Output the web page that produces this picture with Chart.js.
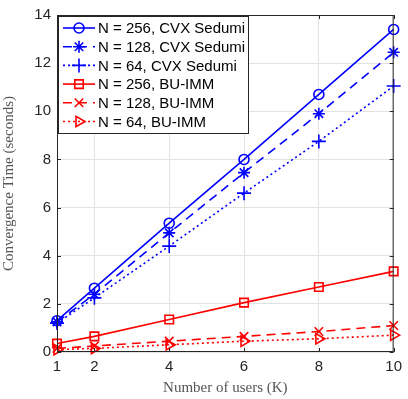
<!DOCTYPE html>
<html><head><meta charset="utf-8">
<script src="https://cdn.jsdelivr.net/npm/chart.js@4.4.0/dist/chart.umd.min.js"></script>
<style>html,body{margin:0;padding:0;background:#fff}#w{width:408px;height:399px}</style>
</head><body><div id="w"><canvas id="c" width="408" height="399"></canvas></div>
<script>
const users = [1, 2, 4, 6, 8, 10];
const xTicks = [1, 2, 4, 6, 8, 10];
const yTicks = [0, 2, 4, 6, 8, 10, 12, 14];
const cvx256 = [1.3, 2.65, 5.35, 8.0, 10.7, 13.4];
const cvx128 = [1.25, 2.4, 4.95, 7.45, 9.9, 12.45];
const cvx64 = [1.2, 2.25, 4.4, 6.6, 8.75, 11.05];
const bu256 = [0.35, 0.65, 1.35, 2.05, 2.7, 3.35];
const bu128 = [0.15, 0.25, 0.45, 0.65, 0.85, 1.1];
const bu64 = [0.1, 0.15, 0.3, 0.45, 0.55, 0.7];

const BLUE = '#0000ff', RED = '#ff0000';
function ds(label, data, color, dash, style, radius, rot) {
  return {
    label, data: users.map((u, i) => ({x: u, y: data[i]})),
    borderColor: color, backgroundColor: 'rgba(0,0,0,0)', borderWidth: 1.6,
    borderDash: dash, pointStyle: style, pointRadius: radius, pointRotation: rot || 0,
    pointBorderColor: color, pointBackgroundColor: 'rgba(0,0,0,0)', pointBorderWidth: 1.6,
    clip: false, tension: 0
  };
}
const datasets = [
  ds('N = 256, CVX Sedumi', cvx256, BLUE, [], 'circle', 5),
  ds('N = 128, CVX Sedumi', cvx128, BLUE, [9, 6], 'star', 6),
  ds('N = 64, CVX Sedumi', cvx64, BLUE, [2, 3], 'cross', 7),
  ds('N = 256, BU-IMM', bu256, RED, [], 'rect', 6),
  ds('N = 128, BU-IMM', bu128, RED, [9, 6], 'crossRot', 6),
  ds('N = 64, BU-IMM', bu64, RED, [2, 3], 'triangle', 6, 90)
];

const frame = {
  id: 'frame',
  afterDatasetsDraw(chart) {
    const {ctx, chartArea: a, scales} = chart;
    ctx.save();
    ctx.strokeStyle = '#262626'; ctx.lineWidth = 1;
    ctx.strokeRect(a.left + 0.5, a.top + 0.5, a.right - a.left - 1, a.bottom - a.top - 1);
    ctx.beginPath();
    xTicks.forEach(v => { const p = Math.round(scales.x.getPixelForValue(v)) + 0.5;
      ctx.moveTo(p, a.bottom); ctx.lineTo(p, a.bottom - 4); ctx.moveTo(p, a.top); ctx.lineTo(p, a.top + 4); });
    yTicks.forEach(v => { const p = Math.round(scales.y.getPixelForValue(v)) + 0.5;
      ctx.moveTo(a.left, p); ctx.lineTo(a.left + 4, p); ctx.moveTo(a.right, p); ctx.lineTo(a.right - 4, p); });
    ctx.stroke();
    // legend
    const lx = a.left + 1, ly = a.top + 1, lw = 190, rowH = 18.7, lh = 117;
    ctx.fillStyle = '#fff'; ctx.fillRect(lx, ly, lw, lh);
    ctx.strokeStyle = '#262626'; ctx.lineWidth = 1; ctx.strokeRect(lx + 0.5, ly + 0.5, lw, lh);
    ctx.font = '15px "Liberation Sans", Arial, sans-serif';
    ctx.textBaseline = 'middle'; ctx.textAlign = 'left';
    chart.data.datasets.forEach((d, i) => {
      const y = ly + 12 + i * rowH;
      ctx.strokeStyle = d.borderColor; ctx.lineWidth = 1.6;
      ctx.setLineDash(d.borderDash);
      ctx.beginPath(); ctx.moveTo(lx + 5, y); ctx.lineTo(lx + 37, y); ctx.stroke();
      ctx.setLineDash([]);
      ctx.fillStyle = 'rgba(0,0,0,0)';
      Chart.helpers.drawPoint(ctx, {pointStyle: d.pointStyle, radius: d.pointRadius, rotation: d.pointRotation, borderWidth: 1.6}, lx + 21, y);
      ctx.fillStyle = '#000';
      ctx.fillText(d.label, lx + 40, y + 1);
    });
    ctx.restore();
  }
};

new Chart(document.getElementById('c'), {
  type: 'line',
  data: {datasets},
  plugins: [frame],
  options: {
    responsive: false, animation: false, devicePixelRatio: 1,
    layout: {padding: {top: 14, right: 10, left: 0, bottom: 0}},
    plugins: {legend: {display: false}, tooltip: {enabled: false}},
    scales: {
      x: {
        type: 'linear', min: 1, max: 10,
        afterBuildTicks: s => { s.ticks = xTicks.map(v => ({value: v})); },
        afterFit: s => { s.height = 47; },
        grid: {color: '#e3e3e3', drawTicks: false},
        border: {display: false},
        ticks: {color: '#262626', padding: 6, font: {family: '"Liberation Sans", Arial, sans-serif', size: 15}},
        title: {display: true, text: 'Number of users (K)', color: '#555', padding: {top: 0, bottom: 2},
          font: {family: '"Liberation Serif", "DejaVu Serif", serif', size: 15}}
      },
      y: {
        type: 'linear', min: 0, max: 14,
        afterBuildTicks: s => { s.ticks = yTicks.map(v => ({value: v})); },
        afterFit: s => { s.width = 57; },
        grid: {color: '#e3e3e3', drawTicks: false},
        border: {display: false},
        ticks: {color: '#262626', padding: 6, font: {family: '"Liberation Sans", Arial, sans-serif', size: 15}},
        title: {display: true, text: 'Convergence Time (seconds)', color: '#555', padding: {top: 0, bottom: 2},
          font: {family: '"Liberation Serif", "DejaVu Serif", serif', size: 15}}
      }
    }
  }
});
</script></body></html>
